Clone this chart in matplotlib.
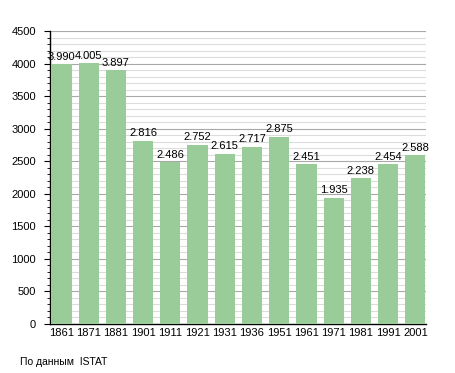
import matplotlib
matplotlib.use("Agg")
import matplotlib.pyplot as plt
from matplotlib.ticker import MultipleLocator

years = ["1861", "1871", "1881", "1901", "1911", "1921", "1931", "1936",
         "1951", "1961", "1971", "1981", "1991", "2001"]
population = [3990, 4005, 3897, 2816, 2486, 2752, 2615, 2717,
              2875, 2451, 1935, 2238, 2454, 2588]
value_labels = ["3.990", "4.005", "3.897", "2.816", "2.486", "2.752", "2.615", "2.717",
                "2.875", "2.451", "1.935", "2.238", "2.454", "2.588"]

plt.rcParams['font.family'] = ['Liberation Sans', 'DejaVu Sans']

fig = plt.figure(figsize=(4.55, 3.73), dpi=100)
ax = fig.add_axes([50/455, 1-324/373, (426-50)/455, (324-31)/373])

x = list(range(len(years)))
bars = ax.bar(x, population, width=0.74, color="#99cc99", zorder=3)

ax.set_ylim(0, 4500)
ax.set_xlim(-0.42, 13.39)
ax.yaxis.set_major_locator(MultipleLocator(500))
ax.yaxis.set_minor_locator(MultipleLocator(100))
ax.grid(which='major', axis='y', color='#a8a8a8', linewidth=0.8, zorder=0)
ax.grid(which='minor', axis='y', color='#dcdcdc', linewidth=0.8, zorder=0)
ax.set_axisbelow(True)

ax.set_xticks(x)
ax.set_xticklabels(years, fontsize=8)
ax.tick_params(axis='x', length=0, pad=3)
ax.tick_params(axis='y', which='major', length=4, labelsize=8, pad=6)
ax.tick_params(axis='y', which='minor', length=2)

for s in ['top', 'right']:
    ax.spines[s].set_visible(False)
for s in ['left', 'bottom']:
    ax.spines[s].set_color('black')
    ax.spines[s].set_linewidth(1.0)

for xi, v, lab in zip(x, population, value_labels):
    ax.text(xi, v + 40, lab, ha='center', va='bottom', fontsize=8, zorder=4)

fig.text(20/455, 1-362/373, "По данным  ISTAT", fontsize=7.5, ha='left', va='center')

fig.savefig("out.png", dpi=100)
